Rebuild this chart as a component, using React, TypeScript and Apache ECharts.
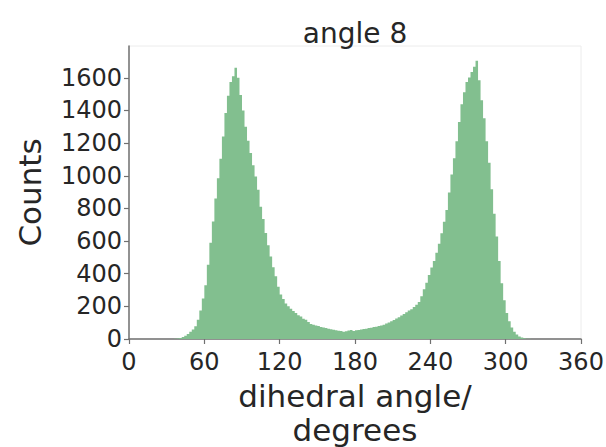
import React, { useEffect, useRef } from "react";
import * as echarts from "echarts";

const title = "angle 8";
const xLabel = "dihedral angle/\ndegrees";
const yLabel = "Counts";
const binWidth = 2;
const xTicks = [0, 60, 120, 180, 240, 300, 360];
// counts per 2-degree bin, starting at 0 degrees
const binCounts = [
  0, 0, 0, 0, 0, 0, 0, 0, 0, 0, 0, 0, 0, 0, 0, 0, 0, 0,
  1, 3, 6, 12, 20, 30, 44, 58, 78, 118, 175, 248, 330, 455, 590, 720, 860, 985,
  1105, 1240, 1385, 1490, 1575, 1610, 1662, 1600, 1495, 1400, 1300, 1215, 1140, 1065,
  995, 915, 810, 735, 650, 575, 505, 440, 385, 320, 272, 245, 218, 200, 186, 172,
  160, 146, 138, 124, 118, 104, 92, 88, 82, 79, 74, 71, 68, 63, 60, 57, 54, 51,
  49, 45, 47, 52, 55, 49, 53, 55, 58, 61, 63, 67, 69, 73, 75, 80, 83, 88, 95, 101,
  109, 116, 126, 133, 144, 153, 164, 174, 183, 196, 210, 226, 262, 305, 345, 392,
  438, 478, 528, 583, 648, 718, 790, 898, 1008, 1108, 1212, 1330, 1438, 1512, 1574,
  1602, 1636, 1668, 1705, 1585, 1462, 1352, 1212, 1080, 918, 768, 628, 478, 342, 238,
  160, 108, 70, 44, 28, 16, 9, 5, 2, 1,
  0, 0, 0, 0, 0, 0, 0, 0, 0, 0, 0, 0, 0, 0, 0, 0, 0, 0, 0, 0,
];

const FONT = "DejaVu Sans";
const TEXT = "#262626";
const FILL = "#82bf8f";

export default function App() {
  const ref = useRef<HTMLDivElement>(null);
  useEffect(() => {
    if (!ref.current) return;
    const chart = echarts.init(ref.current, null, { renderer: "svg" });
    const binData = binCounts.map((c, i) => [i * binWidth, (i + 1) * binWidth, c]);
    chart.setOption({
      animation: false,
      backgroundColor: "#fff",
      textStyle: { fontFamily: FONT },
      grid: {
        left: 129, right: 25, top: 46, bottom: 108,
        outerBoundsMode: "none", containLabel: false,
        show: true, borderColor: "#ececec", borderWidth: 1,
      },
      graphic: [
        {
          type: "text",
          x: 355,
          y: 33,
          style: { text: title, fontSize: 28, fontFamily: FONT, fill: TEXT, textAlign: "center", textVerticalAlign: "middle" },
        },
      ],
      xAxis: {
        type: "value",
        min: xTicks[0],
        max: xTicks[xTicks.length - 1],
        interval: 60,
        name: xLabel,
        nameLocation: "middle",
        nameGap: 30,
        nameTextStyle: { fontSize: 31, fontFamily: FONT, color: TEXT, lineHeight: 34 },
        axisLine: { show: true, lineStyle: { color: "#707070", width: 1.5 } },
        axisTick: { show: true, length: 5, lineStyle: { color: "#707070", width: 1.2 } },
        axisLabel: { fontSize: 24, fontFamily: FONT, color: TEXT, margin: 11, formatter: (v: number) => String(v) },
        splitLine: { show: false },
      },
      yAxis: {
        type: "value",
        min: 0,
        max: 1795,
        interval: 200,
        name: yLabel,
        nameLocation: "middle",
        nameRotate: 90,
        nameGap: 84,
        nameTextStyle: { fontSize: 31, fontFamily: FONT, color: TEXT },
        axisLine: { show: true, lineStyle: { color: "#707070", width: 1.5 } },
        axisTick: { show: true, length: 5, lineStyle: { color: "#707070", width: 1.2 } },
        axisLabel: { fontSize: 24, fontFamily: FONT, color: TEXT, margin: 7, showMaxLabel: false, formatter: (v: number) => String(v) },
        splitLine: { show: false },
      },
      series: [
        {
          type: "custom",
          data: binData,
          encode: { x: [0, 1], y: 2 },
          z: 1,
          renderItem: (params: any, api: any) => {
            if (params.dataIndex !== 0) return null;
            const pts: number[][] = [];
            pts.push(api.coord([binData[0][0], 0]));
            for (const b of binData) {
              pts.push(api.coord([b[0], b[2]]));
              pts.push(api.coord([b[1], b[2]]));
            }
            pts.push(api.coord([binData[binData.length - 1][1], 0]));
            return {
              type: "polygon",
              shape: { points: pts },
              style: { fill: FILL, stroke: null },
            };
          },
        },
      ],
    });
    return () => chart.dispose();
  }, []);
  return <div ref={ref} style={{ position: "absolute", left: 0, top: 0, width: 606, height: 447 }} />;
}
